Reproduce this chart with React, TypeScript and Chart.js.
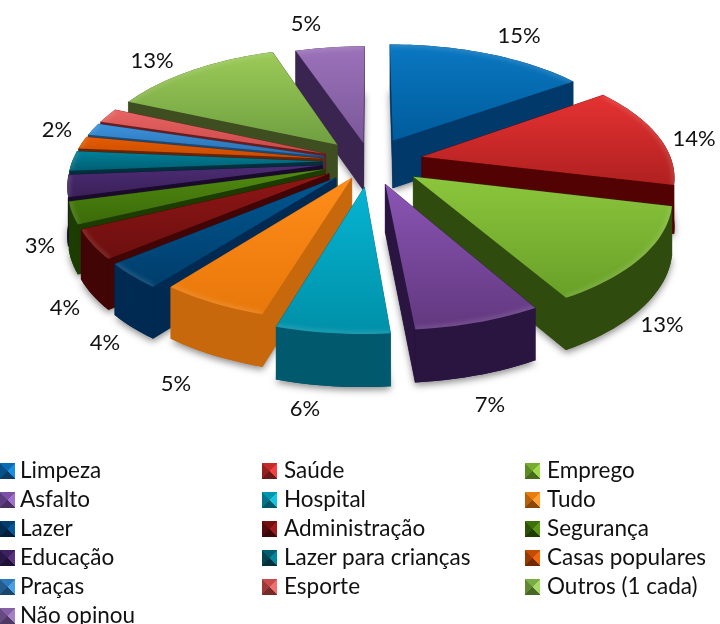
import React, { useEffect, useRef } from "react";
import { Chart, registerables } from "chart.js";

Chart.register(...registerables);

const categories = ["Limpeza","Saúde","Emprego","Asfalto","Hospital","Tudo","Lazer","Administração","Segurança","Educação","Lazer para crianças","Casas populares","Praças","Esporte","Outros (1 cada)","Não opinou"];
const values = [15.4,14,13.2,7,6.2,6,3.5,4,3,3,2.7,1.7,1.7,2,13.4,5.3];
const percentLabels = ["15%","14%","13%","7%","6%","5%","4%","4%","3%","","","","","2%","13%","5%"];
const explode = [58,60,60,56,60,44,54,54,54,54,54,54,54,54,56,46];

const topLight = ["#0a78c2","#e63232","#8cc63c","#8a55b4","#06b4d2","#ff8c1a","#00568f","#8f1616","#528a12","#4c2c74","#00809a","#e45c00","#3c92dc","#e86464","#9ccb58","#9c72ba"];
const topDark = ["#005c9c","#b02020","#68a028","#62387f","#0090a8","#e8780a","#003e6c","#6c0f0f","#3a6a08","#3a2058","#005e72","#c84c00","#2a70b0","#c84848","#6f9f40","#7a5898"];
const sideColor = ["#00396a","#520202","#2f4c0e","#2a1440","#00596c","#c8680c","#002a52","#420505","#1c3c02","#1a0a2c","#00303e","#6a2400","#1a4a78","#6a1c1c","#3e4e20","#3a2550"];
const swatch = [["#1a8fe0","#0a6cb4","#075088","#0a3c66"],["#f04040","#c42a2a","#962020","#6a1818"],["#a0d84c","#78ac30","#5c8a24","#466c1a"],["#a070cc","#7c50a4","#5e3c80","#4a2e64"],["#14c4e0","#0096b0","#007488","#005868"],["#ffa030","#e87c10","#b8600c","#8a4808"],["#005a9a","#003e70","#002c52","#001e3c"],["#a01c1c","#741010","#540a0a","#3c0606"],["#5a9814","#3e700a","#2c5206","#1e3c04"],["#583480","#3c2260","#2c1848","#1e1034"],["#00889e","#005e72","#004452","#00303c"],["#f06808","#c44c00","#983a00","#702a00"],["#48a0e6","#2e78bc","#245c90","#1a466e"],["#f07070","#c84c4c","#9c3a3a","#762a2a"],["#a8d864","#7cac44","#608834","#486828"],["#a880c8","#8460a4","#664a80","#4e3864"]];

const labelAnchors = [[519,36],[694,139],[662,325],[490,405],[305,409],[176,384],[105,343],[65,308],[40,246],[0,0],[0,0],[0,0],[0,0],[57,130],[152,61],[306,24]];

const CX = 370, CY = 161.5, RX = 250, KY = 116.5, PERSP = 0.15, DEPTH = 48;

function project(u: number, w: number, h: number) {
  const s = 1 / (1 - PERSP * w);
  return { x: CX + RX * u * s, y: CY + KY * w * s + h * Math.sqrt(s) };
}

function trace(ctx: CanvasRenderingContext2D, pts: { x: number; y: number }[]) {
  ctx.beginPath();
  pts.forEach((p, i) => (i ? ctx.lineTo(p.x, p.y) : ctx.moveTo(p.x, p.y)));
  ctx.closePath();
}

const pie3d = {
  id: "pie3d",
  beforeDatasetsDraw(chart: any) {
    const ctx: CanvasRenderingContext2D = chart.ctx;
    const arcs = chart.getDatasetMeta(0).data;
    const slices = arcs.map((arc: any, i: number) => {
      const R = arc.outerRadius;
      const e = arc.options.offset / R;
      const mid = (arc.startAngle + arc.endAngle) / 2;
      const au = e * Math.cos(mid), aw = e * Math.sin(mid);
      const outer: { u: number; w: number }[] = [];
      const n = Math.max(6, Math.ceil((arc.endAngle - arc.startAngle) * 30));
      for (let k = 0; k <= n; k++) {
        const a = arc.startAngle + ((arc.endAngle - arc.startAngle) * k) / n;
        outer.push({ u: au + Math.cos(a), w: aw + Math.sin(a) });
      }
      return { i, au, aw, outer, depth: aw + 0.6 * Math.sin(mid) };
    });
    slices.sort((a: any, b: any) => a.depth - b.depth);

    for (const s of slices) {
      const topOuter = s.outer.map((p: any) => project(p.u, p.w, 0));
      const botOuter = s.outer.map((p: any) => project(p.u, p.w, DEPTH));
      const apexTop = project(s.au, s.aw, 0);
      const apexBot = project(s.au, s.aw, DEPTH);
      const top = [apexTop, ...topOuter];
      const sil = [apexBot, ...botOuter];

      // soft cast shadow under the slice
      ctx.save();
      ctx.shadowColor = "rgba(0,0,0,0.45)";
      ctx.shadowBlur = 7;
      ctx.shadowOffsetX = 0;
      ctx.shadowOffsetY = 3;
      ctx.fillStyle = sideColor[s.i];
      trace(ctx, sil);
      ctx.fill();
      ctx.restore();

      // walls
      const walls: { pts: any[]; d: number; c: string }[] = [
        { pts: [apexTop, topOuter[0], botOuter[0], apexBot], d: s.aw + s.outer[0].w, c: sideColor[s.i] },
        { pts: [apexTop, topOuter[topOuter.length - 1], botOuter[botOuter.length - 1], apexBot], d: s.aw + s.outer[s.outer.length - 1].w, c: sideColor[s.i] },
      ];
      walls.sort((a, b) => a.d - b.d);
      for (const wall of walls) {
        ctx.fillStyle = wall.c;
        ctx.strokeStyle = wall.c;
        ctx.lineWidth = 0.5;
        trace(ctx, wall.pts);
        ctx.fill();
        ctx.stroke();
      }
      ctx.fillStyle = sideColor[s.i];
      trace(ctx, [...topOuter, ...botOuter.slice().reverse()]);
      ctx.fill();

      // top face
      const ys = top.map((p: any) => p.y);
      const g = ctx.createLinearGradient(0, Math.min(...ys), 0, Math.max(...ys));
      g.addColorStop(0, topLight[s.i]);
      g.addColorStop(1, topDark[s.i]);
      ctx.fillStyle = g;
      trace(ctx, top);
      ctx.fill();

      // soft bevel along the rim
      ctx.save();
      trace(ctx, top);
      ctx.clip();
      ctx.filter = "blur(2px)";
      ctx.beginPath();
      topOuter.forEach((p: any, k: number) => (k ? ctx.lineTo(p.x, p.y) : ctx.moveTo(p.x, p.y)));
      ctx.strokeStyle = "rgba(255,255,255,0.12)";
      ctx.lineWidth = 6;
      ctx.stroke();
      ctx.restore();
    }

    // percentage labels
    ctx.save();
    ctx.fillStyle = "#111";
    ctx.font = "22px Lato";
    ctx.textAlign = "center";
    ctx.textBaseline = "middle";
    percentLabels.forEach((t, i) => {
      if (t) ctx.fillText(t, labelAnchors[i][0], labelAnchors[i][1]);
    });
    ctx.restore();
    return false;
  },
};

export default function App() {
  const ref = useRef<HTMLCanvasElement>(null);
  useEffect(() => {
    const chart = new Chart(ref.current as HTMLCanvasElement, {
      type: "pie",
      data: {
        labels: categories,
        datasets: [{ data: values, backgroundColor: topLight, offset: explode, borderWidth: 0 }],
      },
      options: {
        animation: false,
        responsive: false,
        plugins: { legend: { display: false }, tooltip: { enabled: false } },
      },
      plugins: [pie3d],
    } as any);
    return () => chart.destroy();
  }, []);

  const colX = [0, 262, 525];
  const textX = [20, 284, 547];
  const rowY = [470, 499, 528, 557, 586, 615];

  return (
    <div style={{ position: "absolute", left: 0, top: 0, width: 720, height: 624, overflow: "hidden", background: "#fff" }}>
      <canvas ref={ref} width={720} height={624} style={{ display: "block" }} />
      {categories.map((c, i) => {
        const col = i % 3;
        const row = Math.floor(i / 3);
        const [a, b, d, e] = swatch[i];
        return (
          <React.Fragment key={c}>
            <div
              style={{
                position: "absolute",
                left: colX[col],
                top: rowY[row] - 7,
                width: 15,
                height: 16,
                background: `conic-gradient(from -45deg, ${b} 0 90deg, ${a} 90deg 180deg, ${e} 180deg 270deg, ${d} 270deg 360deg)`,
              }}
            />
            <div
              style={{
                position: "absolute",
                left: textX[col],
                top: rowY[row] - 14,
                height: 28,
                font: "22.5px/28px Lato",
                color: "#111",
                whiteSpace: "nowrap",
              }}
            >
              {c}
            </div>
          </React.Fragment>
        );
      })}
    </div>
  );
}
